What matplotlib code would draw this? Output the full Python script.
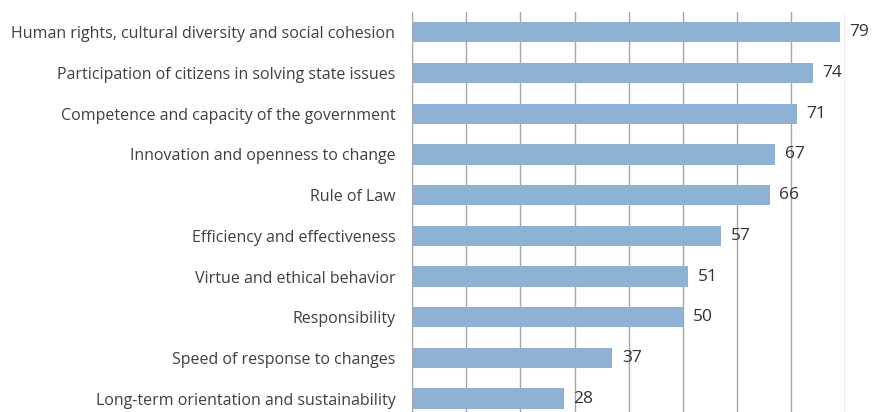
import matplotlib.pyplot as plt

categories = [
    "Human rights, cultural diversity and social cohesion",
    "Participation of citizens in solving state issues",
    "Competence and capacity of the government",
    "Innovation and openness to change",
    "Rule of Law",
    "Efficiency and effectiveness",
    "Virtue and ethical behavior",
    "Responsibility",
    "Speed of response to changes",
    "Long-term orientation and sustainability",
]
values = [79, 74, 71, 67, 66, 57, 51, 50, 37, 28]

plt.rcParams['font.family'] = ['Open Sans', 'DejaVu Sans']

fig = plt.figure(figsize=(8.88, 4.12), dpi=100)
ax = fig.add_axes([0.464, -0.017, 0.488, 0.988])

ypos = list(range(len(categories)))
ax.barh(ypos, values, height=0.5, color="#8eb1d6", zorder=2)
for y, v in zip(ypos, values):
    ax.text(v + 1.8, y, str(v), va="center", ha="left", fontsize=12.5, color="#333333")

ax.set_xlim(0, 80)
ax.set_ylim(len(categories) - 0.5, -0.5)
ax.set_yticks(ypos)
ax.set_yticklabels(categories, fontsize=11.5, color="#404040")
ax.tick_params(axis="y", length=0, pad=12)
ax.set_xticks(range(0, 81, 10))
ax.tick_params(axis="x", length=0, labelbottom=False)
ax.grid(axis="x", color="#a6a6a6", linewidth=1, zorder=0)
for s in ["top", "right", "bottom"]:
    ax.spines[s].set_visible(False)
ax.spines["left"].set_color("#a6a6a6")

fig.savefig("out.png", dpi=100)
